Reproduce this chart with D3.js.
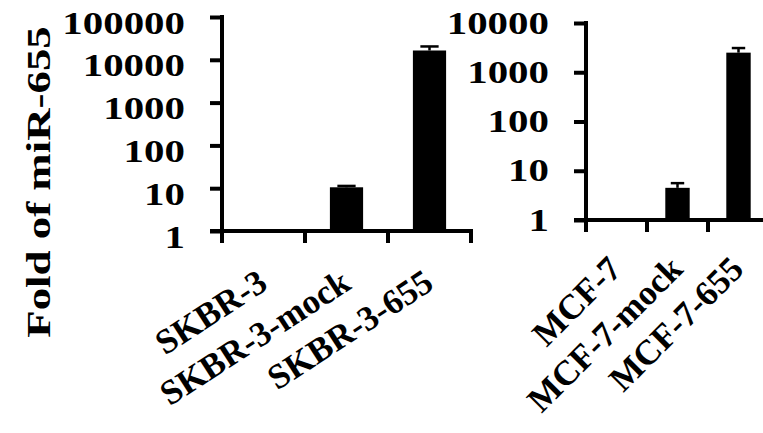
<!DOCTYPE html>
<html>
<head>
	<meta charset="utf-8">
	<script src="https://cdn.jsdelivr.net/npm/d3@7/dist/d3.min.js"></script>
	<style>
		body { margin: 0; background: #fff; }
		svg { display: block; }
		.axis path, .axis line { stroke: #000; stroke-width: 4px; }
		text { font-family: "Liberation Serif", "Times New Roman", serif; font-weight: bold; fill: #000; }
	</style>
</head>
<body>
	<svg id="chart" width="763" height="433"></svg>

	<script>
		// values (fold change, log scale)
		var leftCats = ['SKBR-3', 'SKBR-3-mock', 'SKBR-3-655'];
		var leftVals = [1, 10.5, 16500];
		var leftErr = [0, 0.8, 4000];
		var leftTicks = [1, 10, 100, 1000, 10000, 100000];

		var rightCats = ['MCF-7', 'MCF-7-mock', 'MCF-7-655'];
		var rightVals = [1, 4.5, 2500];
		var rightErr = [0, 1.1, 600];
		var rightTicks = [1, 10, 100, 1000, 10000];

		var svg = d3.select('#chart');

		function panel(cats, vals, errs, ticks, box) {
			var x = d3.scaleBand()
				.domain(cats)
				.range([box.x0, box.x1]);

			var y = d3.scaleLog()
				.domain([1, ticks[ticks.length - 1]])
				.range([box.y0, box.y1]);

			var g = svg.append('g');

			// bars
			g.selectAll('.bar')
				.data(vals)
				.enter()
				.append('rect')
				.attr('x', (d, i) => x(cats[i]) + x.bandwidth() * 0.3)
				.attr('width', x.bandwidth() * 0.4)
				.attr('y', d => y(d))
				.attr('height', d => y(1) - y(d))
				.attr('fill', '#000');

			// upper error bars
			vals.forEach((d, i) => {
				if (!errs[i]) return;
				var cx = x(cats[i]) + x.bandwidth() / 2;
				var top = y(d + errs[i]);
				var cap = x.bandwidth() * 0.11;
				g.append('line')
					.attr('x1', cx).attr('x2', cx)
					.attr('y1', y(d)).attr('y2', top)
					.attr('stroke', '#000').attr('stroke-width', 2.5);
				g.append('line')
					.attr('x1', cx - cap).attr('x2', cx + cap)
					.attr('y1', top).attr('y2', top)
					.attr('stroke', '#000').attr('stroke-width', 2.5);
			});

			// y axis
			var yAxis = g.append('g')
				.attr('class', 'axis')
				.attr('transform', 'translate(' + box.x0 + ',0)')
				.call(d3.axisLeft(y)
					.tickValues(ticks)
					.tickFormat(d3.format('d'))
					.tickSize(12)
					.tickSizeOuter(0));
			yAxis.select('.domain').attr('d', 'M0,' + (box.y1 - 2) + 'V' + (box.y0 + 2));
			yAxis.selectAll('text')
				.attr('x', null)
				.attr('dy', null)
				.attr('text-anchor', 'end')
				.attr('font-size', 31)
				.attr('transform', 'translate(-37,' + box.tdy + ') scale(1.32,1)');

			// x axis with ticks on category boundaries
			var bounds = cats.map(c => x(c)).concat([box.x1]);
			g.append('line')
				.attr('x1', box.x0 - 12).attr('x2', box.x1 + 2)
				.attr('y1', box.y0).attr('y2', box.y0)
				.attr('stroke', '#000').attr('stroke-width', 4);
			g.selectAll('.xtick')
				.data(bounds)
				.enter()
				.append('line')
				.attr('x1', d => d).attr('x2', d => d)
				.attr('y1', box.y0).attr('y2', box.y0 + 12)
				.attr('stroke', '#000').attr('stroke-width', 4);

			// slanted category labels
			g.selectAll('.xlabel')
				.data(cats)
				.enter()
				.append('text')
				.attr('text-anchor', 'end')
				.attr('font-size', 35)
				.attr('transform', d => 'translate(' + (x(d) + x.bandwidth() / 2 + box.lx) + ',' + box.ly + ') rotate(' + box.angle + ')')
				.text(d => d);
		}

		panel(leftCats, leftVals, leftErr, leftTicks,
			{ x0: 222, x1: 471, y0: 231, y1: 17, tdy: 16, lx: 6, ly: 288, angle: -33 });
		panel(rightCats, rightVals, rightErr, rightTicks,
			{ x0: 586, x1: 769, y0: 220, y1: 23, tdy: 10, lx: 7, ly: 271, angle: -45 });

		svg.append('text')
			.attr('text-anchor', 'middle')
			.attr('font-size', 33)
			.attr('transform', 'translate(50,182) rotate(-90) scale(1.36,1)')
			.text('Fold of miR-655');
	</script>
</body>
</html>
